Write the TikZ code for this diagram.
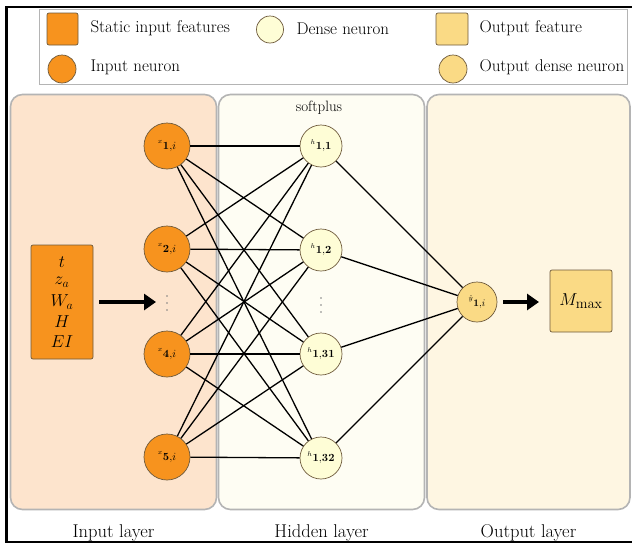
\documentclass[tikz,border=0pt]{standalone}
\usepackage{amsmath}
\usetikzlibrary{arrows.meta}
\definecolor{inorange}{HTML}{F7931E}
\definecolor{densey}{HTML}{FEFDD6}
\definecolor{outy}{HTML}{FADA85}
\definecolor{bgin}{HTML}{FDE4CD}
\definecolor{bghid}{HTML}{FEFDF3}
\definecolor{bgout}{HTML}{FEF6E2}
\definecolor{edgegray}{HTML}{B4B4B4}
\definecolor{nodeedge}{HTML}{6E5A3C}
\newcommand{\nlab}[2]{$^{\scriptscriptstyle #1}\scriptstyle #2$}
\begin{document}
\begin{tikzpicture}[x=1pt,y=-1pt,
  layerbox/.style={draw=edgegray,line width=1.6pt,rounded corners=12pt},
  inneuron/.style={circle,draw=nodeedge,line width=0.7pt,fill=inorange,minimum size=46pt,inner sep=0pt,font=\fontsize{15}{16}\selectfont},
  hidneuron/.style={circle,draw=nodeedge,line width=0.7pt,fill=densey,minimum size=42pt,inner sep=0pt,font=\fontsize{15}{16}\selectfont},
  outneuron/.style={circle,draw=nodeedge,line width=0.7pt,fill=outy,minimum size=40pt,inner sep=0pt,font=\fontsize{14}{16}\selectfont},
  featbox/.style={draw=nodeedge,line width=0.7pt,rounded corners=2pt,inner sep=0pt},
  conn/.style={line width=1.3pt,black},
  bigarrow/.style={line width=4.5pt,-{Triangle[length=12pt,width=16pt]}},
  legtext/.style={anchor=west,font=\fontsize{17}{19}\selectfont},
  laytext/.style={font=\fontsize{18.5}{20}\selectfont},
  feattext/.style={font=\fontsize{18.5}{20}\selectfont},
  dotfill/.style={fill=black!50}
]
\useasboundingbox (0,0) rectangle (632,544);
\fill[white] (0,0) rectangle (632,544);
% frame
\draw[line width=2.5pt,black] (632,7) -- (6.5,7) -- (6.5,542) -- (632,542);

% legend
\node[draw=edgegray,line width=0.8pt,fill=white,minimum width=588pt,minimum height=75pt,inner sep=0pt] (legend) at (333,46.5) {};
\node[featbox,fill=inorange,minimum width=31pt,minimum height=32pt] (lsq1) at (62.5,29) {};
\node[legtext] (lt1) at (87,28) {Static input features};
\node[hidneuron,minimum size=27pt] (lc1) at (270,29.5) {};
\node[legtext] (lt2) at (293,29) {Dense neuron};
\node[featbox,fill=outy,minimum width=32pt,minimum height=32pt] (lsq2) at (452,29) {};
\node[legtext] (lt3) at (476,28) {Output feature};
\node[inneuron,minimum size=28pt] (lc2) at (62,69) {};
\node[legtext] (lt4) at (87,67) {Input neuron};
\node[outneuron,minimum size=28pt] (lc3) at (453,69) {};
\node[legtext] (lt5) at (476,67) {Output dense neuron};

% layer boxes
\node[layerbox,fill=bgin,minimum width=206pt,minimum height=415pt,inner sep=0pt] (Lin) at (113.5,302) {};
\node[layerbox,fill=bghid,minimum width=206pt,minimum height=415pt,inner sep=0pt] (Lhid) at (321.5,302) {};
\node[layerbox,fill=bgout,minimum width=203pt,minimum height=415pt,inner sep=0pt] (Lout) at (528.5,302) {};
\node[laytext] (tin) at (113.5,533) {Input layer};
\node[laytext] (thid) at (321.5,533) {Hidden layer};
\node[laytext] (tout) at (528.5,533) {Output layer};
\node[font=\fontsize{15}{16}\selectfont] (soft) at (319,108) {softplus};

% input features
\node[featbox,fill=inorange,minimum width=62pt,minimum height=114pt] (feat) at (62,302) {};
\node[feattext] (f1) at (62,262) {$t$};
\node[feattext] (f2) at (62,282) {$z_a$};
\node[feattext] (f3) at (62,302) {$W_a$};
\node[feattext] (f4) at (62,322) {$H$};
\node[feattext] (f5) at (62,342) {$EI$};

% neurons
\node[inneuron] (x1) at (167,146) {\nlab{x}{\mathbf{1},i}};
\node[inneuron] (x2) at (167,249) {\nlab{x}{\mathbf{2},i}};
\node[inneuron] (x4) at (167,354) {\nlab{x}{\mathbf{4},i}};
\node[inneuron] (x5) at (167,457) {\nlab{x}{\mathbf{5},i}};
\foreach \yy in {296,303,310}{\fill[dotfill] (167,\yy) circle (0.9pt);}

\node[hidneuron] (h1) at (321,146) {\nlab{h}{\mathbf{1},\mathbf{1}}};
\node[hidneuron] (h2) at (321,250) {\nlab{h}{\mathbf{1},\mathbf{2}}};
\node[hidneuron] (h31) at (321,354) {\nlab{h}{\mathbf{1},\mathbf{31}}};
\node[hidneuron] (h32) at (321,458) {\nlab{h}{\mathbf{1},\mathbf{32}}};
\foreach \yy in {298,305,312}{\fill[dotfill] (321,\yy) circle (0.9pt);}

\node[outneuron] (y) at (477,302) {\nlab{\hat{y}}{\mathbf{1},i}};
\node[featbox,fill=outy,minimum width=62pt,minimum height=62pt] (M) at (581,301) {\fontsize{19}{20}\selectfont$M_{\max}$};

% connections
\foreach \a in {x1,x2,x4,x5}{
  \foreach \b in {h1,h2,h31,h32}{
    \draw[conn] (\a) -- (\b);
  }
}
\foreach \b in {h1,h2,h31,h32}{
  \draw[conn] (\b) -- (y);
}
\coordinate (a1s) at (99,302);
\coordinate (a1e) at (156,302);
\draw[bigarrow] (a1s) -- (a1e);
\draw[bigarrow] (y.east) ++(6,0) coordinate (a2s) -- (539,302) coordinate (a2e);
\end{tikzpicture}
\end{document}
